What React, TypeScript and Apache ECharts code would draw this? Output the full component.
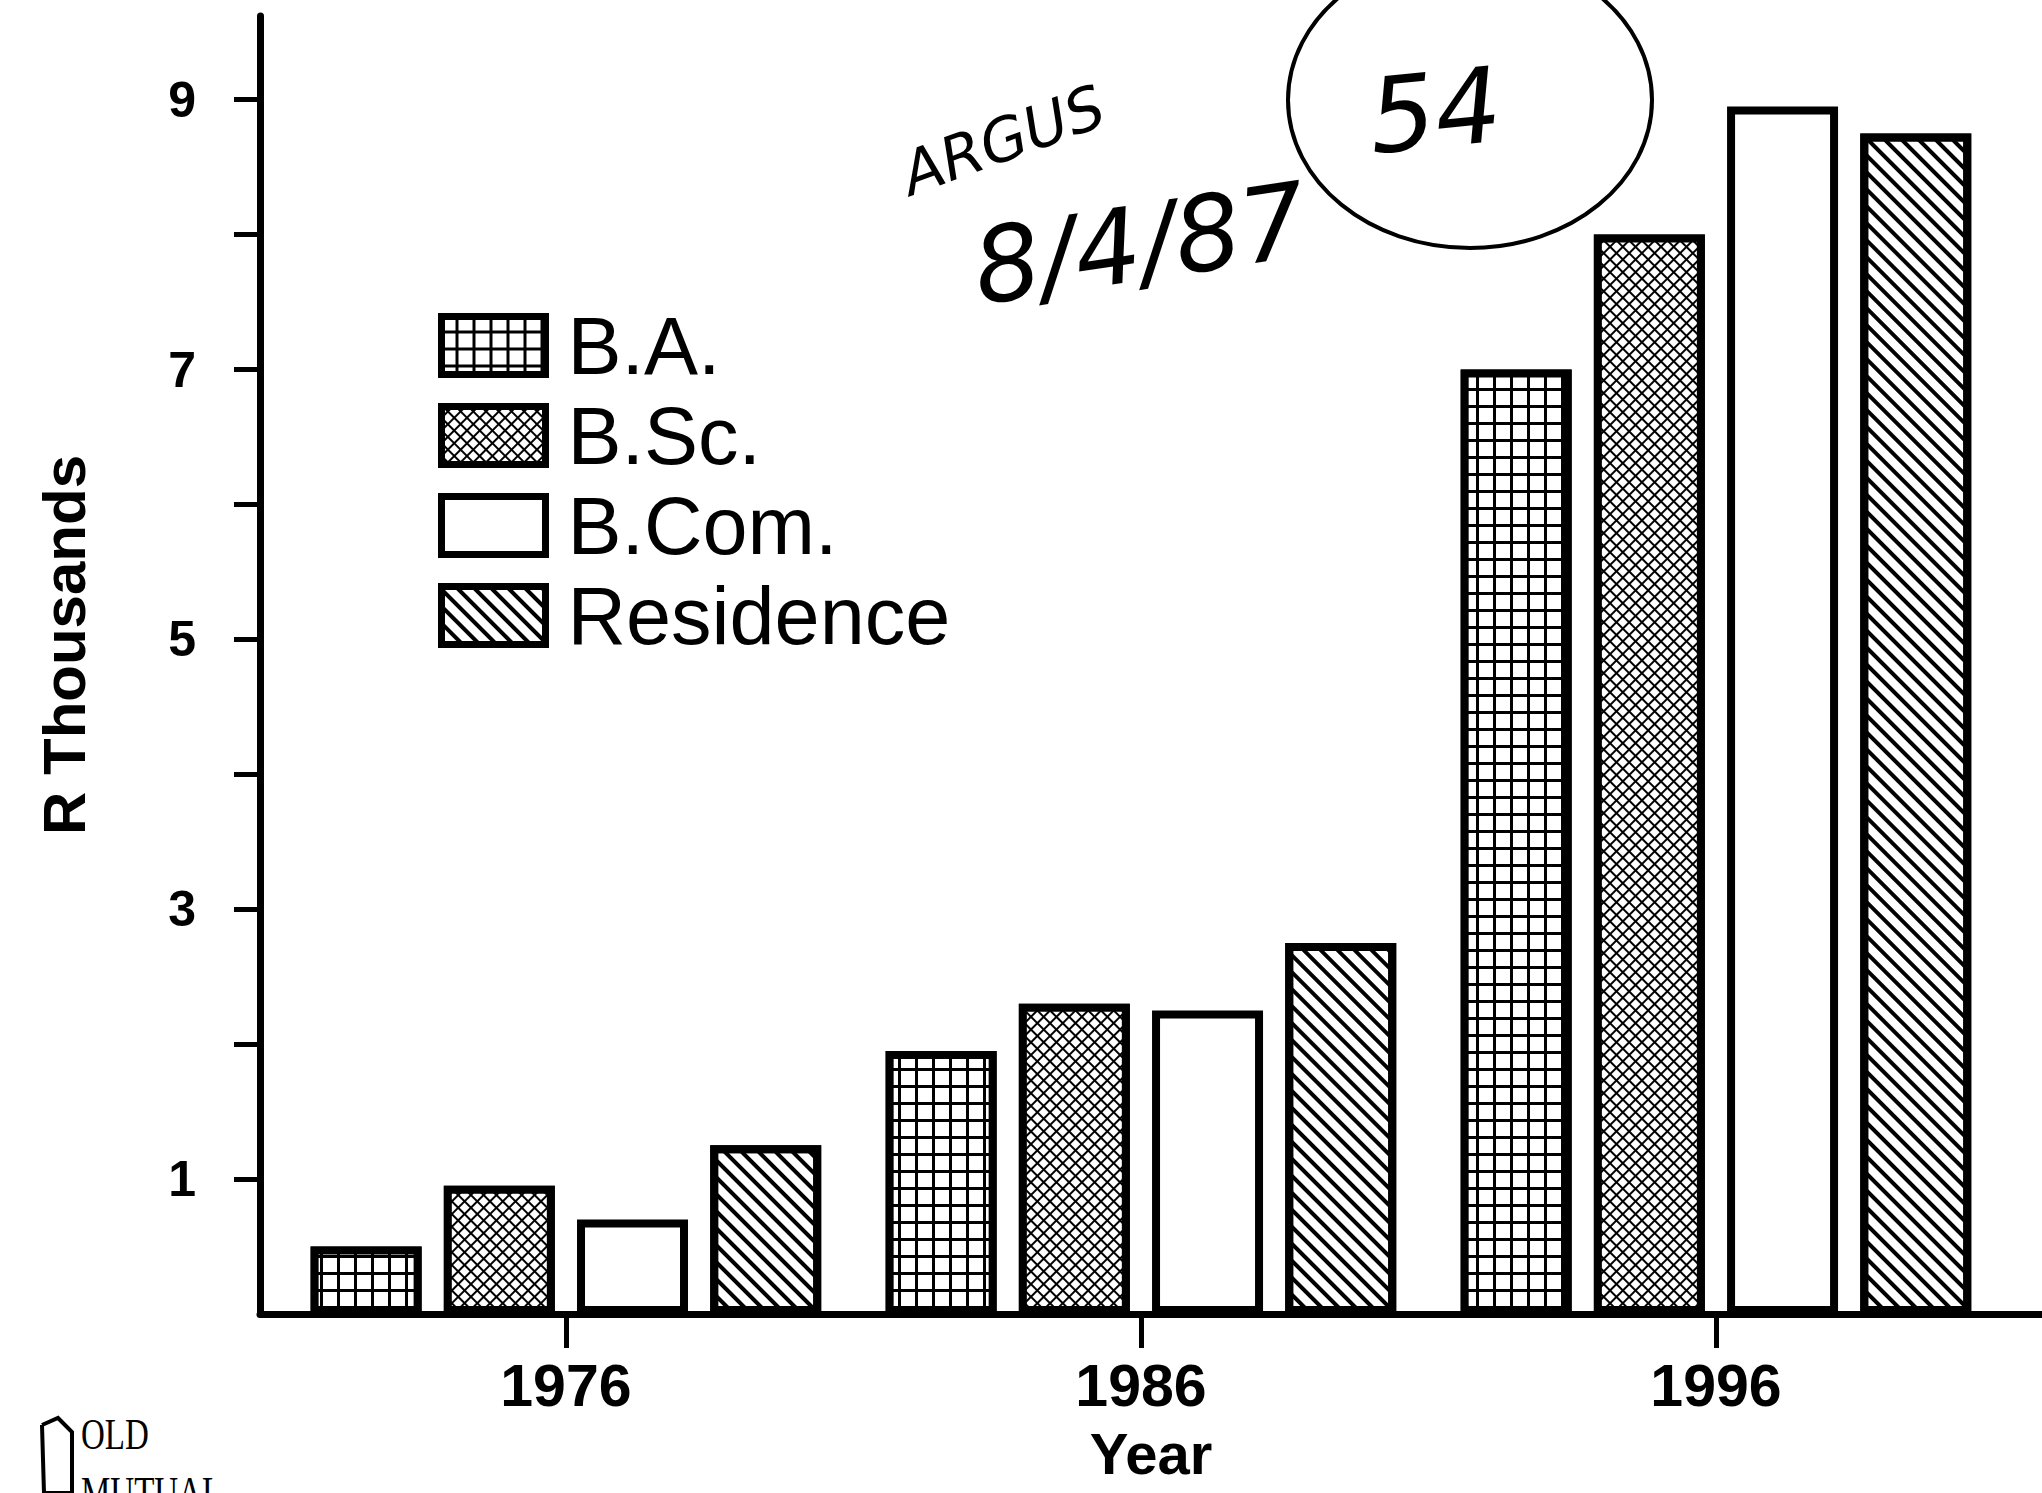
import React, { useEffect, useRef } from 'react';
import * as echarts from 'echarts';

const years = [1976, 1986, 1996];
const seriesNames = ['B.A.', 'B.Sc.', 'B.Com.', 'Residence'];
const baValues = [0.5, 1.95, 7.0];
const bscValues = [0.95, 2.3, 8.0];
const bcomValues = [0.7, 2.25, 8.95];
const residenceValues = [1.25, 2.75, 8.75];
const yTickValues = [1, 2, 3, 4, 5, 6, 7, 8, 9];
const yLabelValues = [1, 3, 5, 7, 9];
const xLabelValues = [1976, 1986, 1996];

const seriesValues = [baValues, bscValues, bcomValues, residenceValues];
const baseColors = ['#000', '#000', '#fff', '#fff'];

const decals: any[] = [
  { symbol: 'rect', symbolSize: 1, color: '#fff', dashArrayX: [14, 3], dashArrayY: [14, 3], rotation: 0 },
  { symbol: 'rect', symbolSize: 1, color: '#fff', dashArrayX: [7, 2], dashArrayY: [7, 2], rotation: Math.PI / 4 },
  null,
  { symbol: 'rect', symbolSize: 1, color: '#000', dashArrayX: [1, 0], dashArrayY: [4, 8], rotation: Math.PI / 4 },
];

export default function App() {
  const ref = useRef<HTMLDivElement>(null);
  useEffect(() => {
    if (!ref.current) return;
    const chart = echarts.init(ref.current, null, { renderer: 'svg' });
    const font = 'Liberation Sans';
    chart.setOption({
      animation: false,
      backgroundColor: '#fff',
      grid: { left: 260, right: 0, top: 16, bottom: 179, outerBoundsMode: 'none' },
      legend: {
        orient: 'vertical',
        left: 433,
        top: 300,
        itemWidth: 104,
        itemHeight: 58,
        itemGap: 9,
        icon: 'rect',
        data: seriesNames,
        itemStyle: { borderWidth: 7, borderColor: '#000' },
        textStyle: { fontSize: 81, color: '#000', fontFamily: font, padding: [0, 0, 0, 17] },
      },
      xAxis: {
        type: 'value',
        min: 1970.68,
        max: 2001.67,
        axisLine: { onZero: true, lineStyle: { color: '#000', width: 7 } },
        axisTick: { show: true, customValues: xLabelValues, length: 34, lineStyle: { color: '#000', width: 5 } },
        axisLabel: {
          customValues: xLabelValues,
          formatter: (v: number) => String(v),
          fontSize: 59,
          fontWeight: 'bold',
          fontFamily: font,
          color: '#000',
          margin: 42,
        },
        splitLine: { show: false },
        name: 'Year',
        nameLocation: 'middle',
        nameGap: 110,
        nameTextStyle: { fontSize: 58, fontWeight: 'bold', fontFamily: font, color: '#000' },
      },
      yAxis: {
        type: 'value',
        min: 0,
        max: 9.62,
        interval: 1,
        axisLine: { show: true, lineStyle: { color: '#000', width: 7 } },
        axisTick: { show: true, customValues: yTickValues, length: 26, lineStyle: { color: '#000', width: 5 } },
        axisLabel: {
          customValues: yLabelValues,
          fontSize: 50,
          fontWeight: 'bold',
          fontFamily: font,
          color: '#000',
          margin: 64,
        },
        splitLine: { show: false },
      },
      series: seriesNames.map((name, i) => ({
        name,
        type: 'bar',
        barWidth: 111,
        barGap: '20%',
        data: years.map((y, j) => [y, seriesValues[i][j]]),
        itemStyle: decals[i]
          ? { color: baseColors[i], borderColor: '#000', borderWidth: 8, decal: decals[i] }
          : { color: baseColors[i], borderColor: '#000', borderWidth: 8 },
      })),
      graphic: [
        {
          type: 'text', x: 64, y: 645, rotation: Math.PI / 2,
          style: { text: 'R Thousands', fontSize: 60, fontWeight: 'bold', fontFamily: font, fill: '#000', align: 'center', verticalAlign: 'middle' },
        },
        {
          type: 'ellipse', shape: { cx: 1470, cy: 100, rx: 182, ry: 148 },
          style: { fill: 'none', stroke: '#000', lineWidth: 4 },
        },
        {
          type: 'text', x: 1435, y: 111, rotation: 0.1,
          style: { text: '54', fontSize: 104, fontStyle: 'italic', fontFamily: 'DejaVu Sans', fill: '#000', align: 'center', verticalAlign: 'middle' },
        },
        {
          type: 'text', x: 1003, y: 140, rotation: 0.35,
          style: { text: 'ARGUS', fontSize: 60, fontStyle: 'italic', fontFamily: 'DejaVu Sans', fill: '#000', align: 'center', verticalAlign: 'middle' },
        },
        {
          type: 'text', x: 1140, y: 244, rotation: 0.15,
          style: { text: '8/4/87', fontSize: 104, fontStyle: 'italic', fontFamily: 'DejaVu Sans', fill: '#000', align: 'center', verticalAlign: 'middle' },
        },
        {
          type: 'polyline',
          shape: { points: [[42, 1425], [58, 1418], [72, 1432], [72, 1493], [44, 1493], [42, 1425]] },
          style: { fill: 'none', stroke: '#000', lineWidth: 4 },
        },
        {
          type: 'text', x: 81, y: 1412,
          style: { text: 'OLD', fontSize: 44, fontFamily: 'Liberation Serif', fill: '#000', align: 'left', verticalAlign: 'top' },
          scaleX: 0.75,
        },
        {
          type: 'text', x: 81, y: 1470,
          style: { text: 'MUTUAL', fontSize: 44, fontFamily: 'Liberation Serif', fill: '#000', align: 'left', verticalAlign: 'top' },
          scaleX: 0.75,
        },
      ],
    });
    return () => chart.dispose();
  }, []);
  return <div ref={ref} style={{ position: 'fixed', left: 0, top: 0, width: 2042, height: 1493 }} />;
}
